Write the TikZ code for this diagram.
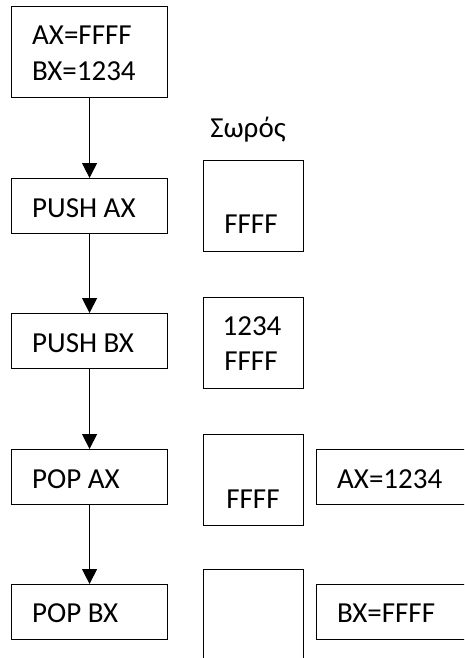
\documentclass[tikz,border=0pt]{standalone}
\usepackage{fontspec}
\setmainfont{Carlito}
\usetikzlibrary{arrows.meta}
\begin{document}
\begin{tikzpicture}[x=1pt,y=-1pt,
  frame/.style={draw, line width=1.1pt, inner sep=0pt, anchor=north west},
  stepbox/.style={frame, minimum width=156pt, minimum height=55pt},
  stackbox/.style={frame, minimum width=100pt, minimum height=91pt},
  regbox/.style={frame, minimum width=200pt, minimum height=55pt},
  txt/.style={inner sep=0pt, anchor=base west, font=\fontsize{29}{34}\selectfont},
  ctxt/.style={txt, anchor=base},
  flow/.style={line width=1.1pt, -{Triangle[width=15pt,length=15pt]}}]
\clip (0,0) rectangle (464,658);

% program steps
\node[stepbox, minimum height=91pt] (init) at (11,6) {};
\node[stepbox] (pushax) at (11,178) {};
\node[stepbox] (pushbx) at (11,313) {};
\node[stepbox] (popax) at (11,449) {};
\node[stepbox] (popbx) at (11,584) {};

\node[txt] (t1) at (32,45) {AX=FFFF};
\node[txt] (t2) at (32,81) {BX=1234};
\node[txt] (t3) at (32,217) {PUSH AX};
\node[txt] (t4) at (32,352) {PUSH BX};
\node[txt] (t5) at (32,488) {POP AX};
\node[txt] (t6) at (32,622) {POP BX};

\draw[flow] (init.south) -- (pushax.north);
\draw[flow] (pushax.south) -- (pushbx.north);
\draw[flow] (pushbx.south) -- (popax.north);
\draw[flow] (popax.south) -- (popbx.north);

% stack contents
\node[ctxt] (title) at (248,137) {Σωρός};
\node[stackbox] (s1) at (203,160) {};
\node[stackbox] (s2) at (203,297) {};
\node[stackbox] (s3) at (203,434) {};
\node[stackbox] (s4) at (203,569) {};

\node[ctxt] (v1) at (251,233) {FFFF};
\node[ctxt] (v2) at (252,335) {1234};
\node[ctxt] (v3) at (251,370) {FFFF};
\node[ctxt] (v4) at (253,508) {FFFF};

% registers after POP
\node[regbox] (r1) at (316,449) {};
\node[regbox] (r2) at (316,584) {};
\node[txt] (rt1) at (337,488) {AX=1234};
\node[txt] (rt2) at (337,622) {BX=FFFF};
\end{tikzpicture}
\end{document}
